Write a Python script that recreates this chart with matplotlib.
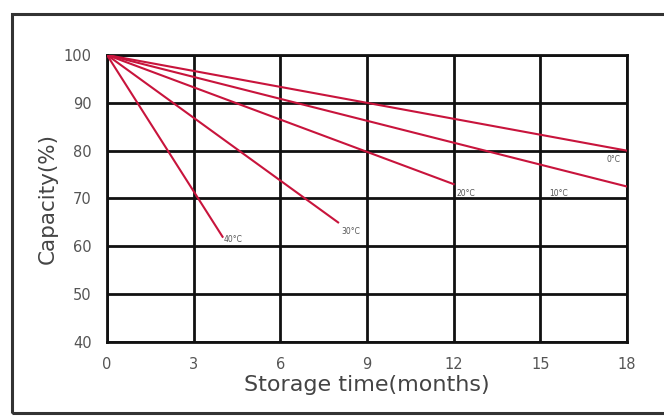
import matplotlib.pyplot as plt
from matplotlib.patches import Rectangle

# storage curves: start and end points
temps = ["0°C", "10°C", "20°C", "30°C", "40°C"]
months = [[0, 18], [0, 18], [0, 12], [0, 8], [0, 4]]
capacity = [[100, 80], [100, 72.5], [100, 73], [100, 65], [100, 62]]

x_ticks = [0, 3, 6, 9, 12, 15, 18]
y_ticks = [40, 50, 60, 70, 80, 90, 100]

line_color = "#c8143c"

fig = plt.figure(figsize=(6.64, 4.16), dpi=100)
fig.patch.set_facecolor("white")

# outer frame around the whole chart
fig.patches.append(Rectangle((12 / 664, 3 / 416), 1.0, 1 - 14 / 416 - 3 / 416,
                             transform=fig.transFigure, fill=False,
                             edgecolor="#333333", linewidth=2.2))

ax = fig.add_axes([107 / 664, 1 - 342 / 416, 520 / 664, 287 / 416])

for t, xs, ys in zip(temps, months, capacity):
	ax.plot(xs, ys, color=line_color, linewidth=1.5, zorder=3)

# small labels at the line ends
lab = dict(fontsize=5.5, color="#555555", ha="left", va="center")
ax.text(17.3, 78.2, temps[0], **lab)
ax.text(15.3, 71.0, temps[1], **lab)
ax.text(12.1, 71.0, temps[2], **lab)
ax.text(8.1, 63.0, temps[3], **lab)
ax.text(4.05, 61.5, temps[4], **lab)

ax.set_xlim(0, 18)
ax.set_ylim(40, 100)
ax.set_xticks(x_ticks)
ax.set_yticks(y_ticks)
ax.grid(True, color="#111111", linewidth=2.0)
ax.set_axisbelow(True)
for s in ax.spines.values():
	s.set_linewidth(2.0)
	s.set_color("#111111")
ax.tick_params(length=0, labelsize=10.5, labelcolor="#555555")
ax.tick_params(axis="y", pad=11)
ax.tick_params(axis="x", pad=11)

ax.set_xlabel("Storage time(months)", fontsize=16, color="#444444", labelpad=2)
ax.set_ylabel("Capacity(%)", fontsize=15.5, color="#444444", labelpad=4)

fig.savefig("out.png", dpi=100)
